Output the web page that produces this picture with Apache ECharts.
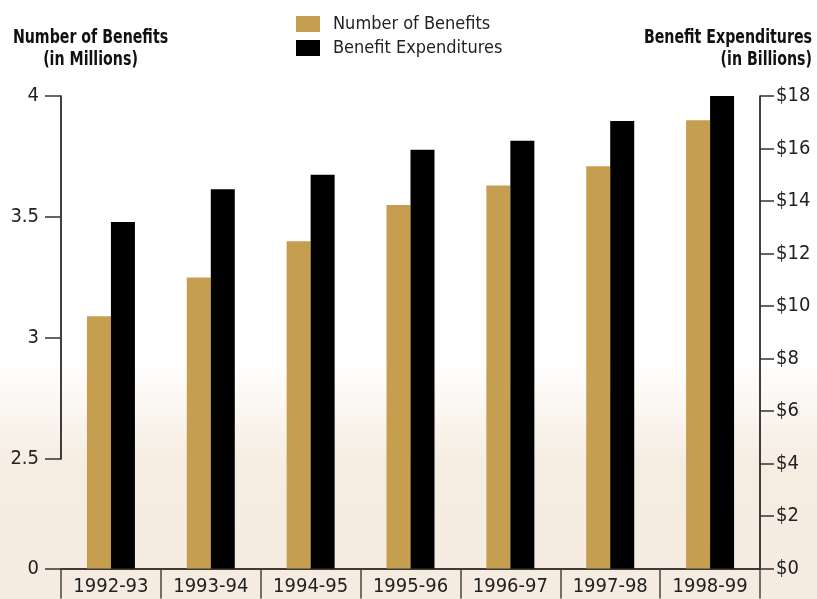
<!DOCTYPE html>
<html>
<head>
<meta charset="utf-8">
<style>
  html, body { margin: 0; padding: 0; background: #fff; }
  #chart { width: 817px; height: 599px; }
</style>
<script src="https://cdn.jsdelivr.net/npm/echarts@6/dist/echarts.min.js"></script>
</head>
<body>
<div id="chart"></div>
<script>
// Fiscal years shown on the category axis
const years = ['1992-93', '1993-94', '1994-95', '1995-96', '1996-97', '1997-98', '1998-99'];
// Number of benefits, in millions (left axis)
const benefits = [3.09, 3.25, 3.40, 3.55, 3.63, 3.71, 3.90];
// Benefit expenditures, in billions of dollars (right axis)
const expenditures = [13.2, 14.45, 15.0, 15.95, 16.3, 17.05, 18.2];

const FONT = '"Liberation Sans Narrow", "DejaVu Sans Condensed", "Roboto Condensed", Arial, sans-serif';
const GOLD = '#c69e50';
const INK = '#222';

const chart = echarts.init(document.getElementById('chart'), null, { renderer: 'canvas' });

chart.setOption({
  animation: false,
  backgroundColor: new echarts.graphic.LinearGradient(0, 0, 0, 1, [
    { offset: 0, color: '#ffffff' },
    { offset: 0.6, color: '#ffffff' },
    { offset: 0.77, color: '#f6ede2' },
    { offset: 1, color: '#f5ebe0' }
  ]),
  textStyle: { fontFamily: FONT },
  graphic: [
    {
      // left axis title, narrowed to a condensed look
      type: 'text', x: 90.5, y: 27, scaleX: 0.83,
      style: {
        text: 'Number of Benefits\n(in Millions)',
        align: 'center', verticalAlign: 'top',
        font: 'bold 19px ' + FONT, lineHeight: 22, fill: '#111'
      }
    },
    {
      // right axis title
      type: 'text', x: 812, y: 27, scaleX: 0.83,
      style: {
        text: 'Benefit Expenditures\n(in Billions)',
        align: 'right', verticalAlign: 'top',
        font: 'bold 19px ' + FONT, lineHeight: 22, fill: '#111'
      }
    }
  ],
  legend: {
    orient: 'vertical',
    left: 296, top: 15, padding: 0,
    itemWidth: 24, itemHeight: 16, itemGap: 6,
    icon: 'rect',
    textStyle: { fontSize: 18, lineHeight: 16, color: INK, fontFamily: FONT, padding: [0, 0, 0, 8] },
    data: ['Number of Benefits', 'Benefit Expenditures']
  },
  grid: { left: 61, right: 57, top: 96, bottom: 30.5, containLabel: false },
  xAxis: {
    type: 'category',
    data: years,
    boundaryGap: true,
    axisLine: { show: true, lineStyle: { color: '#000', width: 1.5 } },
    axisTick: { show: true, length: 30, lineStyle: { color: '#444', width: 1.5 } },
    axisLabel: { fontSize: 20, color: INK, margin: 8, fontFamily: FONT },
    splitLine: { show: false }
  },
  yAxis: [
    {
      type: 'value',
      min: 0, max: 4, interval: 0.5,
      breaks: [{ start: 0, end: 2.5, gap: '23.14%' }],
      breakArea: { show: false },
      axisLine: { show: true, lineStyle: { color: '#000', width: 1.5 } },
      axisTick: { show: true, length: 16, lineStyle: { color: '#333', width: 1.5 } },
      axisLabel: { fontSize: 20, color: INK, margin: 22, fontFamily: FONT },
      splitLine: { show: false }
    },
    {
      type: 'value',
      min: 0, max: 18, interval: 2,
      axisLine: { show: true, lineStyle: { color: '#000', width: 1.5 } },
      axisTick: { show: true, length: 14, lineStyle: { color: '#333', width: 1.5 } },
      axisLabel: { fontSize: 20, color: INK, margin: 16, fontFamily: FONT, formatter: '${value}' },
      splitLine: { show: false }
    }
  ],
  series: [
    {
      name: 'Number of Benefits',
      type: 'bar',
      yAxisIndex: 0,
      data: benefits,
      barWidth: 24,
      barGap: '0%',
      itemStyle: { color: GOLD }
    },
    {
      name: 'Benefit Expenditures',
      type: 'bar',
      yAxisIndex: 1,
      data: expenditures,
      barWidth: 24,
      barGap: '0%',
      itemStyle: { color: '#000' }
    }
  ]
});
</script>
</body>
</html>
